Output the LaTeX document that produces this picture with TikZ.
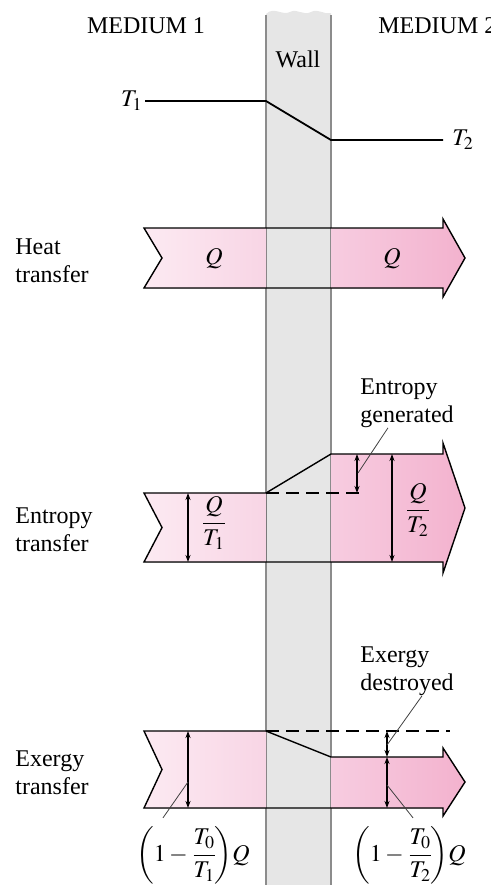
\documentclass[tikz,border=0pt]{standalone}
\usepackage{amsmath}
\usepackage{mathptmx}
\usepackage{fontspec}
\setmainfont{Liberation Serif}
\usepackage{xcolor}
\usetikzlibrary{arrows.meta,positioning,calc}

\definecolor{pinkA}{RGB}{252,234,242}
\definecolor{pinkB}{RGB}{248,213,229}
\definecolor{pinkC}{RGB}{247,204,224}
\definecolor{pinkD}{RGB}{243,178,206}
\definecolor{wallgray}{RGB}{230,230,230}
\definecolor{wallline}{RGB}{140,140,140}

\begin{document}
\begin{tikzpicture}[
  x=0.5pt, y=-0.5pt,
  font=\fontsize{12}{14}\selectfont,
  lbl/.style={align=left, inner sep=0pt},
  band/.style={line width=0.7pt, line join=miter},
  leftpart/.style={left color=pinkA, right color=pinkB},
  rightpart/.style={left color=pinkC, right color=pinkD},
  dim/.style={{Stealth[length=3.5pt,width=2.5pt]}-{Stealth[length=3.5pt,width=2.5pt]}, line width=0.6pt},
  lead/.style={line width=0.4pt, draw=black!75},
  dsh/.style={dash pattern=on 6.5pt off 3.5pt, line width=0.7pt}
]
\useasboundingbox (0,0) rectangle (491,885);

% wall
\fill[wallgray] (266,885) -- (266,14) .. controls (274,6) and (282,16) .. (290,12)
  .. controls (297,8) and (303,16) .. (311,12) .. controls (318,8) and (324,15) .. (331,13) -- (331,885) -- cycle;
\draw[wallline, line width=1pt] (266,885) -- (266,15) (331,15) -- (331,885);

% headings
\node[anchor=base] (med1) at (146,33) {MEDIUM 1};
\node[anchor=base west, inner sep=0pt] (med2) at (378,33) {MEDIUM 2};
\node[anchor=base] (wall) at (298,67) {Wall};

% temperature profile
\node[anchor=east, inner sep=1pt] (t1) at (145,101) {$T_1$};
\node[anchor=west, inner sep=4.5pt] (t2) at (443,140) {$T_2$};
\coordinate (w1) at (266,101);
\coordinate (w2) at (331,140);
\draw[line width=0.9pt] (t1) -- (w1) -- (w2) -- (t2);

% heat transfer
\fill[leftpart] (144,228) -- (266,228) -- (266,288) -- (144,288) -- (162,258) -- cycle;
\fill[rightpart] (331,228) -- (443,228) -- (443,219) -- (465,258) -- (443,297) -- (443,288) -- (331,288) -- cycle;
\draw[band] (144,228) -- (443,228) -- (443,219) -- (465,258) -- (443,297) -- (443,288) -- (144,288) -- (162,258) -- cycle;
\node[lbl, anchor=west] (heat) at (15,261) {Heat\\transfer};
\node (q1) at (214,259) {$Q$};
\node (q2) at (392,259) {$Q$};

% entropy transfer
\fill[leftpart] (144,493) -- (266,493) -- (266,562) -- (144,562) -- (162,527.5) -- cycle;
\fill[rightpart] (331,454) -- (443,454) -- (443,443) -- (465,508) -- (443,573) -- (443,562) -- (331,562) -- cycle;
\draw[band] (144,493) -- (266,493) -- (331,454) -- (443,454) -- (443,443) -- (465,508) -- (443,573) -- (443,562) -- (144,562) -- (162,527.5) -- cycle;
\draw[dsh] (266,493) -- (362,493);
\node[lbl, anchor=west] (ent) at (15,530) {Entropy\\transfer};
\node (qt1) at (214,523) {$\dfrac{Q}{T_1}$};
\node (qt2) at (418,510) {$\dfrac{Q}{T_2}$};
\coordinate (e1t) at (188,493);
\coordinate (e1b) at (188,562);
\coordinate (e2t) at (392,454);
\coordinate (e2b) at (392,562);
\coordinate (egt) at (357,454);
\coordinate (egb) at (357,493);
\draw[dim] (e1t) -- (e1b);
\draw[dim] (e2t) -- (e2b);
\draw[dim] (egt) -- (egb);
\node[lbl, anchor=west] (gen) at (360,403) {Entropy\\generated};
\coordinate (genp) at (358,473);
\draw[lead] ([xshift=14pt]gen.south west) -- (genp);

% exergy transfer
\fill[leftpart] (144,731) -- (266,731) -- (266,808) -- (144,808) -- (162,769.5) -- cycle;
\fill[rightpart] (331,757) -- (443,757) -- (443,748) -- (465,782) -- (443,816) -- (443,808) -- (331,808) -- cycle;
\draw[band] (144,731) -- (266,731) -- (331,757) -- (443,757) -- (443,748) -- (465,782) -- (443,816) -- (443,808) -- (144,808) -- (162,769.5) -- cycle;
\draw[dsh] (266,731) -- (450,731);
\node[lbl, anchor=west] (exg) at (15,773) {Exergy\\transfer};
\coordinate (x1t) at (188,731);
\coordinate (x1b) at (188,808);
\coordinate (x1m) at (188,782);
\coordinate (xdt) at (387,731);
\coordinate (xdm) at (387,757);
\coordinate (xdb) at (387,808);
\coordinate (xdp) at (387,745);
\coordinate (x2m) at (387,785);
\draw[dim] (x1t) -- (x1b);
\draw[dim] (xdt) -- (xdm);
\draw[dim] (xdm) -- (xdb);
\node[lbl, anchor=west] (dest) at (360,671) {Exergy\\destroyed};
\draw[lead] ([xshift=31pt]dest.south west) -- (xdp);
\node[inner sep=1pt] (ex1) at (193,855) {$\left(1-\dfrac{T_0}{T_1}\!\right)\!Q$};
\node[inner sep=1pt] (ex2) at (409,855) {$\left(1-\dfrac{T_0}{T_2}\!\right)\!Q$};
\draw[lead] (x1m) -- ([xshift=-15pt,yshift=3pt]ex1.north);
\draw[lead] (x2m) -- ([xshift=2pt,yshift=3pt]ex2.north);
\end{tikzpicture}
\end{document}
